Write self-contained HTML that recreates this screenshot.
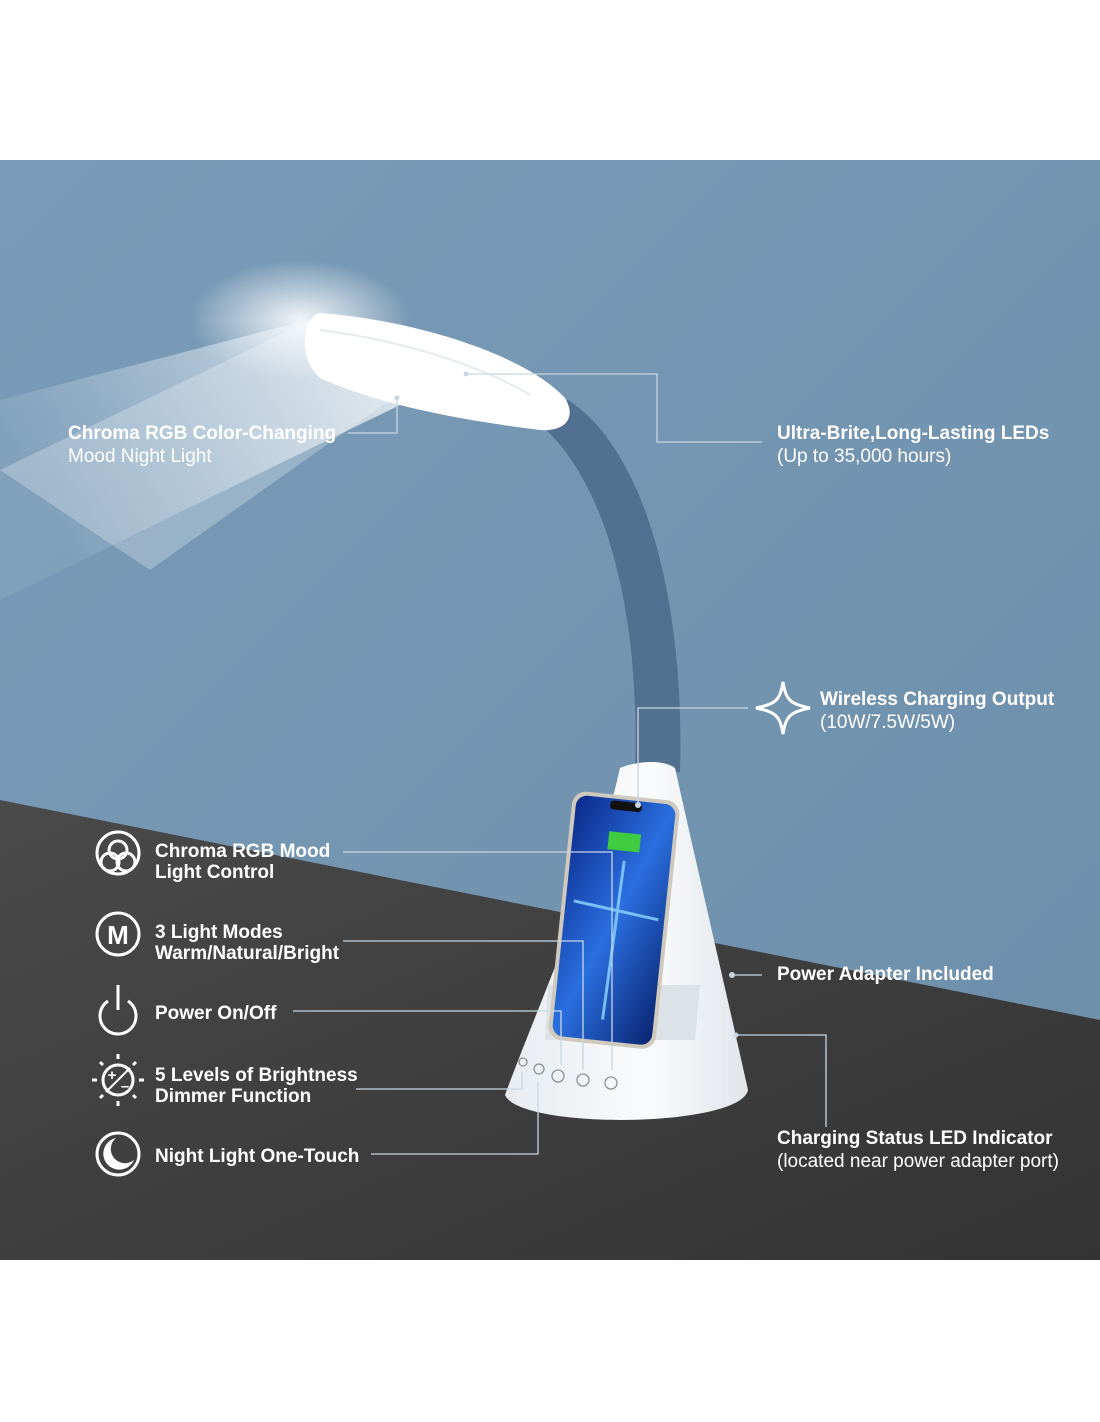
<!DOCTYPE html>
<html><head><meta charset="utf-8"><style>
body{margin:0;background:#fff;}
svg{display:block}
text{font-family:"Liberation Sans",Arial,sans-serif;fill:#fff;}
.b{font-weight:bold;font-size:19px}
.n{font-size:19px}
.l{stroke:#c8d6e2;stroke-width:1.3;fill:none}
.ic{stroke:#fff;stroke-width:3;fill:none}
</style></head><body>
<svg width="1100" height="1422" viewBox="0 0 1100 1422">
<defs>
<linearGradient id="bg" x1="0" y1="0" x2="1" y2="1">
<stop offset="0" stop-color="#7a9cb8"/><stop offset="1" stop-color="#6c8ea9"/></linearGradient>
<linearGradient id="beam" x1="1" y1="0" x2="0" y2="0.4">
<stop offset="0" stop-color="#fff" stop-opacity="0.95"/><stop offset="0.5" stop-color="#e4edf4" stop-opacity="0.55"/><stop offset="1" stop-color="#c3d4e2" stop-opacity="0.15"/></linearGradient>
<linearGradient id="dark" x1="0" y1="0" x2="1" y2="1">
<stop offset="0" stop-color="#4a4a4a"/><stop offset="1" stop-color="#333"/></linearGradient>
<linearGradient id="scr" x1="0" y1="0" x2="1" y2="1">
<stop offset="0" stop-color="#0b2a8a"/><stop offset="0.5" stop-color="#2a6fe0"/><stop offset="1" stop-color="#0a2470"/></linearGradient>
<linearGradient id="base" x1="0" y1="0" x2="1" y2="0">
<stop offset="0" stop-color="#e8ecf0"/><stop offset="0.6" stop-color="#fafbfc"/><stop offset="1" stop-color="#e0e5ea"/></linearGradient>
<radialGradient id="glow" cx="0.5" cy="0.5" r="0.5"><stop offset="0" stop-color="#fff" stop-opacity="0.9"/><stop offset="1" stop-color="#fff" stop-opacity="0"/></radialGradient>
</defs>
<rect x="0" y="160" width="1100" height="1100" fill="url(#bg)"/>
<polygon points="0,800 1100,1020 1100,1260 0,1260" fill="url(#dark)"/>
<ellipse cx="300" cy="320" rx="110" ry="60" fill="url(#glow)"/>
<polygon points="315,318 400,405 0,600 0,400" fill="url(#beam)" opacity="0.85"/>
<polygon points="315,318 390,400 150,570 0,470" fill="#fff" opacity="0.25"/>
<!-- neck -->
<path d="M535,420 C610,480 640,620 635,770 L680,772 C685,600 645,450 568,400 Z" fill="#52708f"/>
<!-- head -->
<path d="M318,313 C400,318 520,350 565,398 C578,420 562,432 540,430 C460,420 380,405 320,378 C300,360 300,325 318,313 Z" fill="#fff"/>
<path d="M320,330 C400,340 480,365 530,395" stroke="#e6ebf0" stroke-width="2" fill="none"/>
<!-- base -->
<path d="M620,768 C640,760 665,760 675,768 C700,880 728,1000 748,1090 C740,1128 520,1130 505,1095 C540,1000 595,880 620,768 Z" fill="url(#base)"/>
<path d="M548,985 L700,985 L695,1040 L545,1040 Z" fill="#dde2e7"/>
<!-- phone -->
<g transform="rotate(6 612 920)">
<rect x="560" y="795" width="108" height="250" rx="14" fill="#cfc8bc"/>
<rect x="564" y="799" width="100" height="242" rx="11" fill="url(#scr)"/>
<rect x="598" y="801" width="32" height="9" rx="4" fill="#111"/>
<rect x="600" y="832" width="32" height="18" fill="#3fcb3f"/>
<path d="M572,905 L658,915 M618,860 L613,1020" stroke="#8fd8ff" stroke-width="3" opacity="0.8"/>
</g>
<!-- buttons -->
<g stroke="#8a939b" stroke-width="1.3" fill="none">
<circle cx="539" cy="1069" r="5"/><circle cx="558" cy="1076" r="6"/><circle cx="583" cy="1080" r="6"/><circle cx="611" cy="1083" r="6"/><circle cx="523" cy="1062" r="4"/></g>
<!-- connectors -->
<g class="l">
<polyline points="348,433 397,433 397,398"/>
<polyline points="466,374 657,374 657,442 762,442"/>
<polyline points="638,805 638,708 748,708"/>
<polyline points="343,852 612,852 612,1070"/>
<polyline points="343,941 583,941 583,1070"/>
<polyline points="293,1011 561,1011 561,1065"/>
<polyline points="356,1089 522,1089 522,1072"/>
<polyline points="371,1154 538,1154 538,1082"/>
<polyline points="732,975 762,975"/>
<polyline points="736,1035 826,1035 826,1127"/>
</g>
<g fill="#c8d6e2"><circle cx="397" cy="398" r="2.5"/><circle cx="466" cy="374" r="2.5"/><circle cx="638" cy="805" r="3"/><circle cx="732" cy="975" r="3"/><circle cx="736" cy="1035" r="2.5"/></g>
<!-- wireless icon -->
<path d="M783,682 C786,700 790,704 810,708 C790,712 786,716 783,734 C780,716 776,712 756,708 C776,704 780,700 783,682 Z" class="ic" stroke-width="2.5"/>
<!-- texts -->
<text x="68" y="439" class="b">Chroma RGB Color-Changing</text>
<text x="68" y="462" class="n">Mood Night Light</text>
<text x="777" y="439" class="b">Ultra-Brite,Long-Lasting LEDs</text>
<text x="777" y="462" class="n">(Up to 35,000 hours)</text>
<text x="820" y="705" class="b">Wireless Charging Output</text>
<text x="820" y="728" class="n">(10W/7.5W/5W)</text>
<text x="777" y="980" class="b">Power Adapter Included</text>
<text x="777" y="1144" class="b">Charging Status LED Indicator</text>
<text x="777" y="1167" class="n">(located near power adapter port)</text>
<text x="155" y="857" class="b">Chroma RGB Mood</text>
<text x="155" y="878" class="b">Light Control</text>
<text x="155" y="938" class="b">3 Light Modes</text>
<text x="155" y="959" class="b">Warm/Natural/Bright</text>
<text x="155" y="1019" class="b">Power On/Off</text>
<text x="155" y="1081" class="b">5 Levels of Brightness</text>
<text x="155" y="1102" class="b">Dimmer Function</text>
<text x="155" y="1162" class="b">Night Light One-Touch</text>
<!-- icons -->
<g class="ic">
<circle cx="118" cy="853" r="21"/><circle cx="118" cy="850" r="9"/><circle cx="110" cy="862" r="9"/><circle cx="126" cy="862" r="9"/>
<circle cx="118" cy="934" r="21"/>
<path d="M108,1001 A18,18 0 1 0 128,1001"/><line x1="118" y1="985" x2="118" y2="1010"/>
<circle cx="118" cy="1080" r="15"/><line x1="106" y1="1092" x2="130" y2="1068" stroke-width="2"/>
<circle cx="118" cy="1154" r="21"/>
</g>
<text x="118" y="944" text-anchor="middle" style="font-weight:bold;font-size:26px">M</text>
<text x="112" y="1080" text-anchor="middle" style="font-weight:bold;font-size:15px">+</text>
<text x="125" y="1091" text-anchor="middle" style="font-weight:bold;font-size:15px">–</text>
<g stroke="#fff" stroke-width="3"><line x1="118" y1="1054" x2="118" y2="1059"/><line x1="118" y1="1101" x2="118" y2="1106"/><line x1="92" y1="1080" x2="97" y2="1080"/><line x1="139" y1="1080" x2="144" y2="1080"/><line x1="100" y1="1062" x2="103" y2="1065"/><line x1="136" y1="1062" x2="133" y2="1065"/><line x1="100" y1="1098" x2="103" y2="1095"/><line x1="136" y1="1098" x2="133" y2="1095"/></g>
<path d="M116,1138 A16,16 0 1 0 134,1160 A14,14 0 0 1 116,1138 Z" fill="#fff"/>
</svg>
</body></html>
